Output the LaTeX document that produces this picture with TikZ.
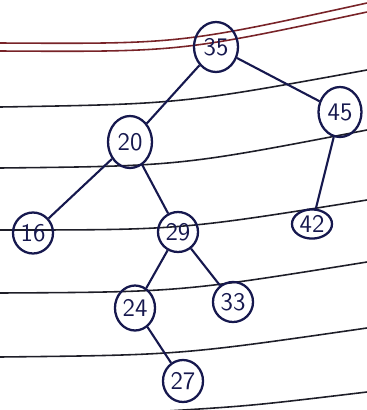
\documentclass[tikz,border=0pt]{standalone}
\usepackage{xcolor}
\usepackage{tikz}
\usetikzlibrary{
  shapes.geometric,
  calc
}
\definecolor{inkblue}{RGB}{22, 24, 78}
\definecolor{rulered}{RGB}{120, 35, 40}
\definecolor{rulegray}{RGB}{30, 30, 40}

\begin{document}
\begin{tikzpicture}[
    x=0.02cm, y=-0.02cm,
    keynode/.style={
        ellipse, draw=inkblue, line width=1.3pt, text=inkblue,
        font=\Large\sffamily, inner sep=1pt
    },
    link/.style={draw=inkblue, line width=1.2pt},
    ruling/.style={draw=rulegray, line width=0.9pt},
    margin/.style={draw=rulered, line width=0.9pt}
]
\useasboundingbox (0,0) rectangle (367,410);

% ruled paper
\draw[margin] (0,43) .. controls (180,44) .. (367,3);
\draw[margin] (0,51) .. controls (180,52) .. (367,12);
\draw[ruling] (0,107) .. controls (180,104) .. (367,70);
\draw[ruling] (0,168) .. controls (180,166) .. (367,130);
\draw[ruling] (0,230) .. controls (180,230) .. (367,200);
\draw[ruling] (0,293) .. controls (180,292) .. (367,262);
\draw[ruling] (0,357) .. controls (180,355) .. (367,328);
\draw[ruling] (150,412) .. controls (250,406) .. (367,392);

% tree
\node[keynode, minimum width=0.88cm, minimum height=1.0cm] (n35) at (216,47) {35};
\node[keynode, minimum width=0.86cm, minimum height=1.0cm] (n45) at (340,112) {45};
\node[keynode, minimum width=0.88cm, minimum height=1.04cm] (n20) at (130,142) {20};
\node[keynode, minimum width=0.8cm, minimum height=0.82cm] (n16) at (33,233) {16};
\node[keynode, minimum width=0.8cm, minimum height=0.8cm] (n29) at (178,232) {29};
\node[keynode, minimum width=0.74cm, minimum height=0.56cm] (n42) at (312,224) {42};
\node[keynode, minimum width=0.6cm, minimum height=0.9cm] (n24) at (135,308) {24};
\node[keynode, minimum width=0.72cm, minimum height=0.8cm] (n33) at (233,302) {33};
\node[keynode, minimum width=0.76cm, minimum height=0.84cm] (n27) at (183,381) {27};

\draw[link] (n35) -- (n20);
\draw[link] (n35) -- (n45);
\draw[link] (n20) -- (n16);
\draw[link] (n20) -- (n29);
\draw[link] (n45) -- (n42);
\draw[link] (n29) -- (n24);
\draw[link] (n29) -- (n33);
\draw[link] (n24) -- (n27);

\end{tikzpicture}
\end{document}
